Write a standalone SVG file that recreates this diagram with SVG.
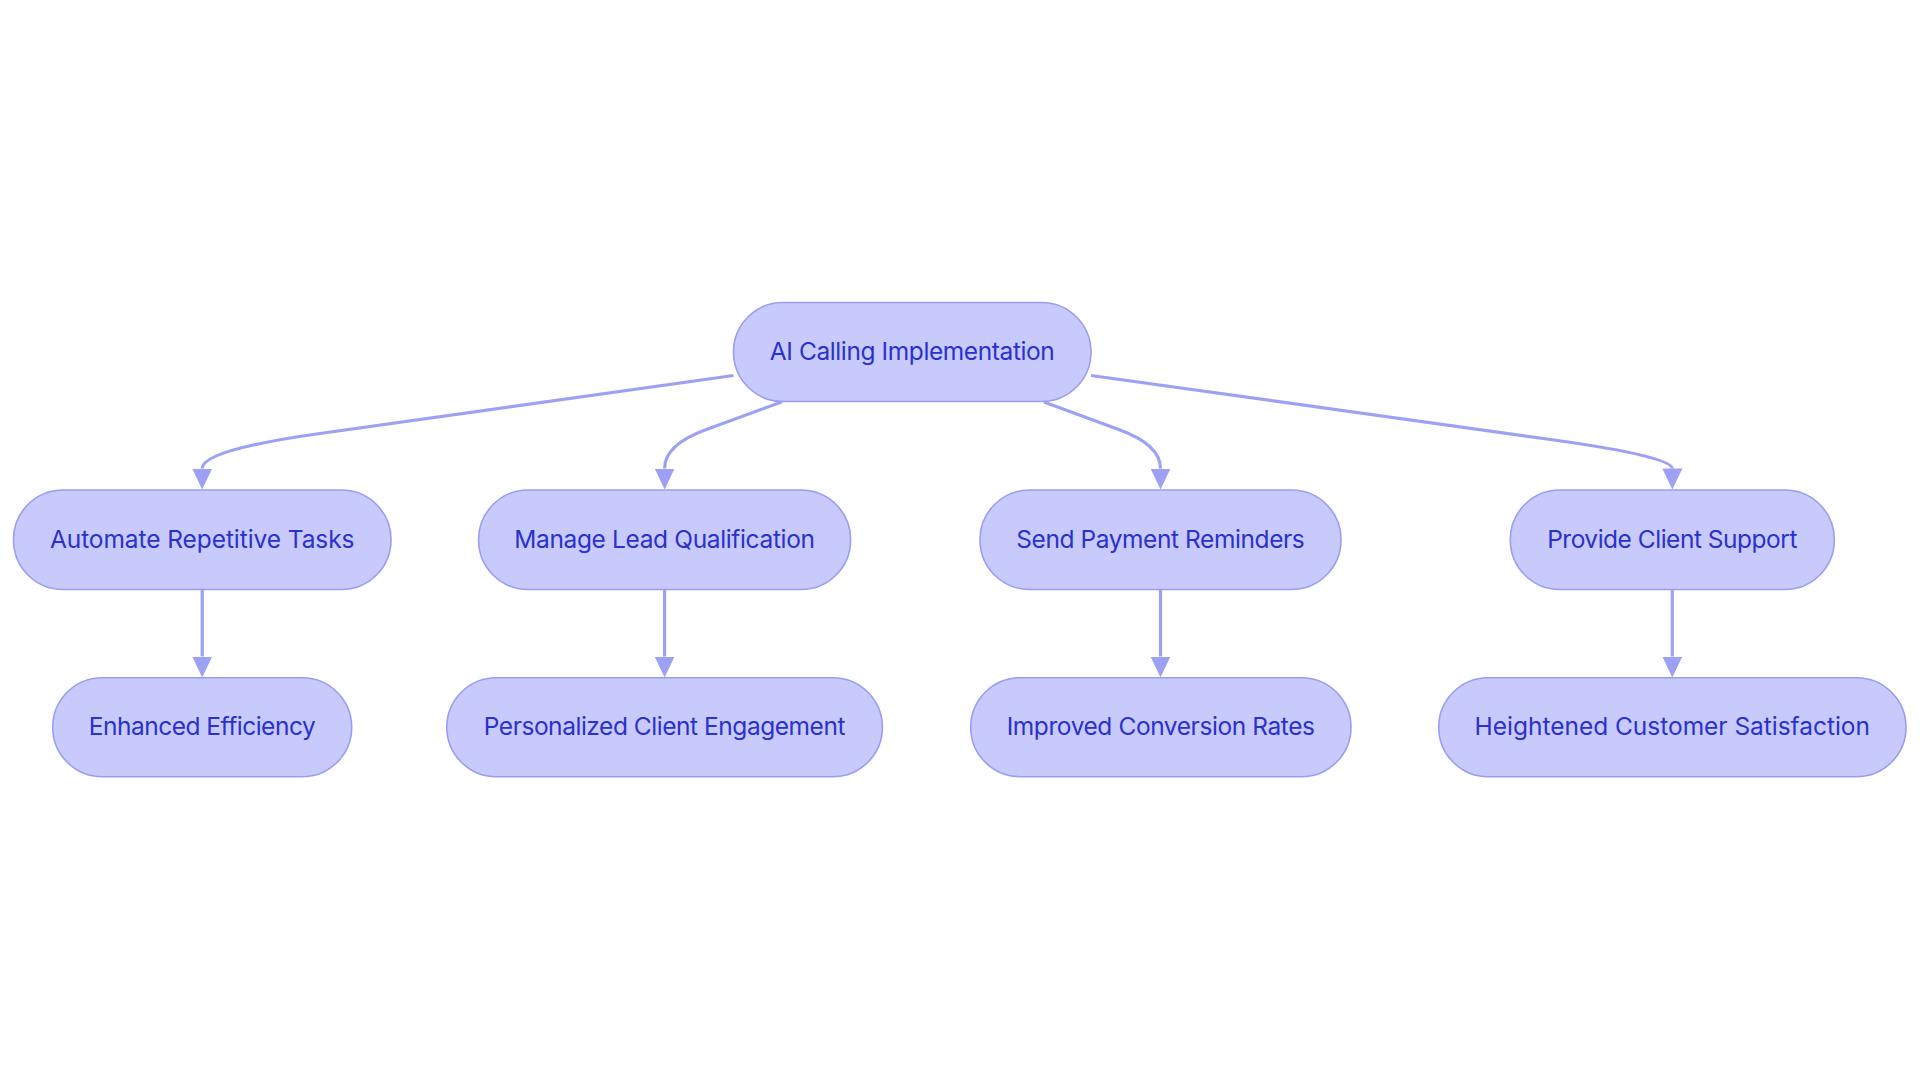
<svg xmlns="http://www.w3.org/2000/svg" width="1920" height="1083" viewBox="0 0 1920 1083">
<defs>
<style>
.node rect{fill:#C8CAFC;stroke:#9A9EF0;stroke-width:1.6}
.node text{font-family:Inter,"Noto Sans","Liberation Sans",sans-serif;font-size:24.5px;fill:#2A31CC;text-anchor:middle}
.edge{fill:none;stroke:#9DA1F3;stroke-width:3.2;marker-end:url(#arrow)}
</style>
<marker id="arrow" markerUnits="userSpaceOnUse" viewBox="0 0 21 20" refX="0" refY="10" markerWidth="21" markerHeight="20" orient="auto">
<path d="M0,0 L21,10 L0,20 z" fill="#9DA1F3"/>
</marker>
</defs>
<rect width="1920" height="1083" fill="#FFFFFF"/>
<g id="connectors">
<path class="edge" d="M733.5,375.5 L320,433.5 Q202.2,450 202.2,468.5"/>
<path class="edge" d="M781.5,402 L705,430 Q664.6,445 664.6,468.5"/>
<path class="edge" d="M1044,402 L1120,430 Q1160.5,445 1160.5,468.5"/>
<path class="edge" d="M1091,375.5 L1554,440 Q1672.3,456.5 1672.3,468.5"/>
<path class="edge" d="M202.2,589.5 L202.2,656.5"/>
<path class="edge" d="M664.6,589.5 L664.6,656.5"/>
<path class="edge" d="M1160.5,589.5 L1160.5,656.5"/>
<path class="edge" d="M1672.3,589.5 L1672.3,656.5"/>
</g>
<g id="node-root" class="node">
<rect x="733.5" y="302.5" width="357.5" height="99" rx="49.5"/>
<text x="912.3" y="360" textLength="285" lengthAdjust="spacing">AI Calling Implementation</text>
</g>
<g id="node-automate" class="node">
<rect x="13.5" y="490" width="377.5" height="99.5" rx="49.5"/>
<text x="202.2" y="547.5" textLength="304.6" lengthAdjust="spacing">Automate Repetitive Tasks</text>
</g>
<g id="node-manage" class="node">
<rect x="478.6" y="490" width="372" height="99.5" rx="49.5"/>
<text x="664.6" y="547.5" textLength="300.7" lengthAdjust="spacing">Manage Lead Qualification</text>
</g>
<g id="node-send" class="node">
<rect x="980" y="490" width="361" height="99.5" rx="49.5"/>
<text x="1160.5" y="547.5" textLength="288.6" lengthAdjust="spacing">Send Payment Reminders</text>
</g>
<g id="node-provide" class="node">
<rect x="1510.3" y="490" width="324" height="99.5" rx="49.5"/>
<text x="1672.3" y="547.5" textLength="250.3" lengthAdjust="spacing">Provide Client Support</text>
</g>
<g id="node-enhanced" class="node">
<rect x="52.7" y="677.7" width="299" height="99" rx="49.5"/>
<text x="202.2" y="735" textLength="227" lengthAdjust="spacing">Enhanced Efficiency</text>
</g>
<g id="node-personalized" class="node">
<rect x="446.8" y="677.7" width="435.6" height="99" rx="49.5"/>
<text x="664.6" y="735" textLength="361.7" lengthAdjust="spacing">Personalized Client Engagement</text>
</g>
<g id="node-improved" class="node">
<rect x="970.7" y="677.7" width="380.3" height="99" rx="49.5"/>
<text x="1160.8" y="735" textLength="308.3" lengthAdjust="spacing">Improved Conversion Rates</text>
</g>
<g id="node-heightened" class="node">
<rect x="1438.7" y="677.7" width="467.3" height="99" rx="49.5"/>
<text x="1672.3" y="735" textLength="395.4" lengthAdjust="spacing">Heightened Customer Satisfaction</text>
</g>
</svg>
